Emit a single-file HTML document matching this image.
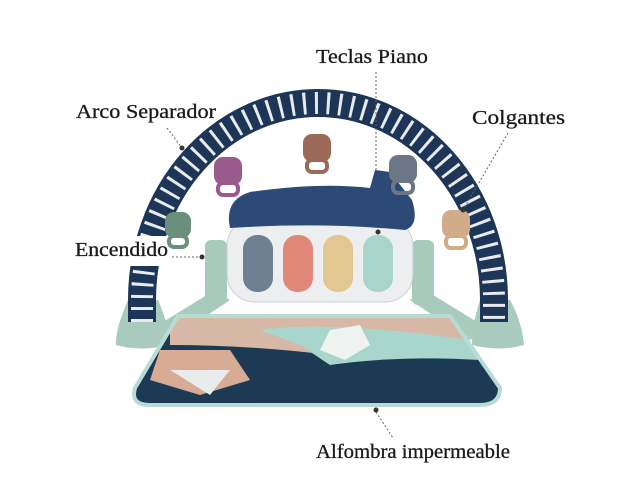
<!DOCTYPE html>
<html><head><meta charset="utf-8"><style>
html,body{margin:0;padding:0;background:#fff;}
svg{display:block}
text{font-family:"Liberation Serif",serif;font-size:20px;fill:#1a1a1a;stroke:#1a1a1a;stroke-width:0.3}
</style></head><body>
<svg width="640" height="500" viewBox="0 0 640 500">
<defs>
<clipPath id="mat"><path d="M178,316 L450,316 L500,388 Q500,405 480,405 L150,405 Q130,405 135,388 Z"/></clipPath>
</defs>
<!-- feet & rails -->
<path d="M150,330 L215,290 L230,300 L170,340 Z" fill="#a9cbbd"/>
<path d="M490,330 L425,290 L410,300 L470,340 Z" fill="#a9cbbd"/>
<path d="M128,300 Q115,330 116,345 Q140,352 170,345 Q168,322 158,300 Z" fill="#a9cbbd"/>
<path d="M480,300 Q472,325 472,345 Q500,352 524,345 Q522,322 510,300 Z" fill="#a9cbbd"/>
<rect x="205" y="240" width="22" height="65" rx="6" fill="#a6cbbb"/>
<rect x="412" y="240" width="22" height="65" rx="6" fill="#a6cbbb"/>
<!-- arch -->
<path d="M142,322 L142,300 A176,197 0 0 1 494,300 L494,322" fill="none" stroke="#1d3557" stroke-width="28"/>
<path d="M142,322 L142,300 A176,197 0 0 1 494,300 L494,322" fill="none" stroke="#fff" stroke-width="22" stroke-dasharray="3 9" opacity="0.9"/>
<rect x="72" y="236" width="96" height="30" fill="#fff"/>
<!-- mat -->
<g clip-path="url(#mat)">
<rect x="120" y="310" width="400" height="100" fill="#1d3a55"/>
<path d="M170,316 L455,316 L470,350 Q400,345 330,355 Q250,345 170,345 Z" fill="#d7b7a5"/>
<path d="M260,330 Q330,320 470,340 L480,360 Q400,355 330,365 L300,345 Z" fill="#a9d6cc"/>
<path d="M330,330 L360,325 L370,345 L345,360 L320,350 Z" fill="#eef2f1"/>
<path d="M160,350 L230,350 L250,380 L200,395 L150,380 Z" fill="#d8ab94"/>
<path d="M170,370 L230,370 L210,395 Z" fill="#e8ecec"/>
</g>
<path d="M178,316 L450,316 L500,388 Q500,405 480,405 L150,405 Q130,405 135,388 Z" fill="none" stroke="#b7dcd6" stroke-width="4"/>
<!-- piano -->
<rect x="227" y="218" width="186" height="84" rx="28" fill="#eceef0" stroke="#c9cfd4"/>
<path d="M230,228 Q224,200 250,192 Q320,182 370,188 L375,170 L390,172 L412,200 Q420,225 405,230 Q320,222 230,228 Z" fill="#2c4a75"/>
<rect x="243" y="235" width="30" height="57" rx="14" fill="#6f8093"/>
<rect x="283" y="235" width="30" height="57" rx="14" fill="#e0877a"/>
<rect x="323" y="235" width="30" height="57" rx="14" fill="#e3c790"/>
<rect x="363" y="235" width="30" height="57" rx="14" fill="#a9d4c8"/>
<!-- bears -->
<g><rect x="214" y="157" width="28" height="28" rx="9" fill="#9a5a8c"/><rect x="218" y="183" width="20" height="12" rx="5" fill="none" stroke="#9a5a8c" stroke-width="4"/></g>
<g><rect x="303" y="134" width="28" height="28" rx="9" fill="#9c6a58"/><rect x="307" y="160" width="20" height="12" rx="5" fill="none" stroke="#9c6a58" stroke-width="4"/></g>
<g><rect x="389" y="155" width="28" height="28" rx="9" fill="#6b7785"/><rect x="393" y="181" width="20" height="12" rx="5" fill="none" stroke="#6b7785" stroke-width="4"/></g>
<g><rect x="165" y="212" width="26" height="26" rx="9" fill="#6b8f7a"/><rect x="169" y="236" width="18" height="11" rx="5" fill="none" stroke="#6b8f7a" stroke-width="4"/></g>
<g><rect x="442" y="210" width="28" height="28" rx="9" fill="#d2ab88"/><rect x="446" y="236" width="20" height="12" rx="5" fill="none" stroke="#d2ab88" stroke-width="4"/></g>
<!-- leaders -->
<g stroke="#666" stroke-width="1" stroke-dasharray="2 2" fill="none">
<line x1="376" y1="72" x2="376" y2="170"/>
<line x1="167" y1="128" x2="182" y2="148"/>
<line x1="508" y1="133" x2="463" y2="210"/>
<line x1="172" y1="257" x2="202" y2="257"/>
<line x1="376" y1="412" x2="393" y2="438"/>
</g>
<g fill="#333"><circle cx="182" cy="148" r="2.5"/><circle cx="463" cy="210" r="2.5"/><circle cx="202" cy="257" r="2.5"/><circle cx="376" cy="410" r="2.5"/><circle cx="378" cy="232" r="2.5"/></g>
<!-- labels -->
<text x="316" y="63" textLength="112" lengthAdjust="spacingAndGlyphs">Teclas Piano</text>
<text x="76" y="118" textLength="140" lengthAdjust="spacingAndGlyphs">Arco Separador</text>
<text x="472" y="124" textLength="93" lengthAdjust="spacingAndGlyphs">Colgantes</text>
<text x="75" y="256" textLength="93" lengthAdjust="spacingAndGlyphs">Encendido</text>
<text x="316" y="458" textLength="194" lengthAdjust="spacingAndGlyphs">Alfombra impermeable</text>
</svg>
</body></html>
